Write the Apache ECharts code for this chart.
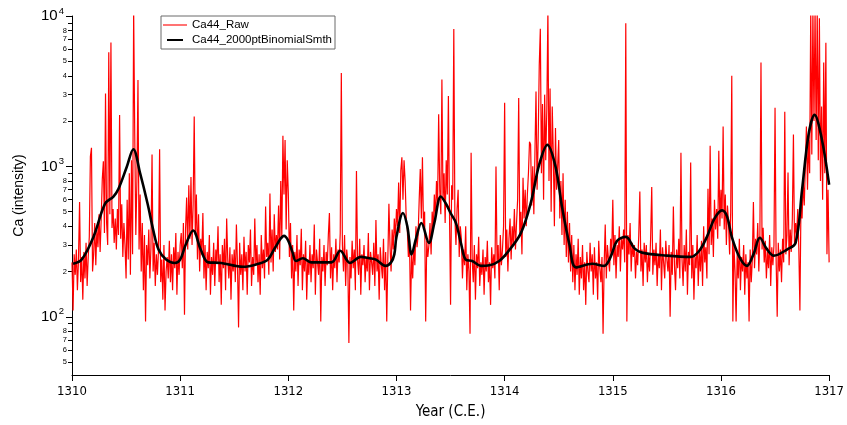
<!DOCTYPE html>
<html>
<head>
<meta charset="utf-8">
<script src="https://cdn.jsdelivr.net/npm/echarts@6/dist/echarts.min.js"></script>
<style>html,body{margin:0;padding:0;background:#fff}#c{width:847px;height:425px}</style>
</head>
<body>
<div id="c"></div>
<script>
// ---- data ----
const rawStartYear = 1310;
const rawStep = 0.01;
const rawValues = [
230,110,260,190,280,150,240,580,170,250,
130,270,180,310,160,250,340,1160,1330,200,
260,420,220,380,290,480,270,450,820,1080,
360,3050,420,300,5750,480,6670,390,520,310,
450,280,520,350,2200,330,560,250,420,300,
180,600,240,900,190,1100,260,11000,1630,350,
800,3760,280,650,200,420,150,350,93,300,
220,380,180,290,1200,200,310,160,260,190,
280,1300,170,240,130,300,110,200,250,180,
320,170,260,150,290,210,360,140,270,190,
300,360,210,420,103,380,620,280,750,330,
850,300,560,2150,350,650,240,480,200,330,
260,490,180,300,150,270,210,350,140,250,
190,310,160,280,230,400,170,260,120,300,
210,330,150,450,240,180,290,130,260,200,
280,170,410,220,85,310,190,260,150,340,
200,270,140,300,230,380,160,250,190,450,
220,300,170,260,140,350,210,280,180,540,
250,310,190,660,230,380,200,480,270,350,
280,550,240,800,330,1600,650,1500,380,1100,
660,250,420,180,300,110,270,200,350,160,
280,220,385,150,260,200,320,130,240,190,
300,170,260,210,410,140,280,230,190,330,
93,250,200,300,160,270,220,350,490,180,
290,150,260,210,330,170,280,230,360,4180,
300,200,350,160,280,230,67,250,180,320,
210,280,150,930,240,190,330,140,260,220,
300,170,250,200,360,150,270,230,190,310,
160,440,200,260,130,290,220,180,330,150,
270,93,240,565,300,200,380,280,450,330,
520,400,780,360,940,1150,600,1100,800,450,
380,250,330,110,260,180,300,220,400,290,
350,600,960,450,1150,380,500,93,320,250,
300,420,260,500,380,650,450,800,550,2220,
700,480,3780,600,900,420,1100,650,2940,500,
120,750,600,8180,450,300,520,700,250,400,
330,180,280,220,400,150,260,200,77,1230,
240,170,300,130,260,210,340,160,230,190,
280,140,250,200,320,170,230,120,290,210,
260,180,1000,230,300,150,350,220,280,400,
2650,250,380,200,330,450,240,400,300,520,
280,420,600,2850,350,500,260,840,450,700,
400,650,900,1460,1400,550,1000,480,1200,3150,
700,1500,4670,8220,900,2600,600,3000,1100,2400,
11000,800,3300,500,2500,1200,400,1800,700,1000,
1500,450,800,350,900,300,600,250,500,230,
420,200,350,170,300,150,260,190,330,140,
250,180,300,150,230,120,270,200,170,310,
200,260,140,290,180,230,130,320,210,170,
250,77,220,410,180,300,240,200,330,260,
600,220,350,180,300,250,400,200,330,280,
380,230,8960,93,350,260,420,200,310,250,
300,180,270,220,350,680,200,280,160,310,
230,300,170,260,200,340,730,190,280,220,
310,160,260,210,380,150,290,230,180,320,
240,200,300,100,270,190,540,220,150,280,
210,330,180,1230,240,160,300,200,380,140,
270,220,1060,180,300,130,250,210,350,160,
280,200,320,160,400,230,290,180,710,260,
1370,300,450,250,600,380,520,330,1270,400,
700,450,1840,380,650,300,550,420,260,500,
4010,93,300,200,93,260,180,330,150,250,
200,300,140,260,180,230,93,280,170,240,
580,210,330,260,420,200,350,4900,280,390,
230,320,180,270,210,350,160,290,220,300,
2450,240,100,310,200,280,170,330,230,2310,
260,350,910,220,380,270,450,1630,300,420,
350,520,280,110,600,450,800,550,1000,1840,
700,1500,900,11000,1200,11000,2000,11000,1500,11000,
1100,9650,800,2500,600,4900,900,6650,260,700,
230
];
const smoothYears = [
1310.01,1310.09,1310.2,1310.306,1310.383,1310.43,1310.506,1310.567,1310.63,1310.7,1310.75,1310.8,1310.87,1310.95,
1311.0,1311.05,1311.12,1311.19,1311.26,1311.38,1311.58,1311.72,1311.81,1311.88,1311.96,
1312.0,1312.04,1312.07,1312.135,1312.21,1312.4,1312.48,1312.57,1312.67,1312.75,1312.81,1312.9,1312.95,
1312.98,1313.0,1313.06,1313.1,1313.14,1313.18,1313.23,1313.3,1313.35,1313.41,1313.46,1313.5,1313.55,1313.6,1313.64,1313.7,1313.78,1313.86,1313.95,
1314.03,1314.15,1314.24,1314.32,1314.395,1314.47,1314.53,1314.6,1314.66,1314.81,1314.92,1314.98,
1315.04,1315.12,1315.2,1315.27,1315.5,1315.72,1315.8,1315.87,1315.94,
1316.01,1316.056,1316.1,1316.17,1316.24,1316.3,1316.36,1316.42,1316.49,1316.61,1316.69,1316.75,1316.81,1316.865,1316.93,1317.0
];
const smoothValues = [
225,240,342,565,630,710,990,1300,900,560,380,280,240,228,
240,300,375,280,230,228,215,225,240,290,345,
320,267,235,245,230,230,275,228,250,245,240,218,230,
260,340,490,400,260,330,420,310,420,630,560,490,420,300,240,235,218,220,235,
270,360,565,1030,1390,1000,540,300,213,225,218,250,
320,340,285,267,255,250,275,340,450,
510,465,340,250,218,260,335,285,255,280,310,700,1630,2200,1550,755
];
const xTickYears = [1310,1311,1312,1313,1314,1315,1316,1317];
const yMajorTicks = [100,1000,10000];
const yMinorTicks = [50,60,70,80,90,200,300,400,500,600,700,800,900,2000,3000,4000,5000,6000,7000,8000,9000];
const yMinorLabels = [50,60,70,80,200,300,400,500,600,700,800,2000,3000,4000,5000,6000,7000,8000];
const seriesNames = ['Ca44_Raw','Ca44_2000ptBinomialSmth'];
const xName = 'Year (C.E.)';
const yName = 'Ca (intensity)';

// ---- chart ----
const rawData = rawValues.map((v,i)=>[+(rawStartYear + i*rawStep).toFixed(2), v]);
const smoothData = smoothYears.map((y,i)=>[y, smoothValues[i]]);
const FONT = "'Liberation Sans Narrow','DejaVu Sans Condensed','Liberation Sans',sans-serif";
const FONT2 = "'Liberation Sans','DejaVu Sans',sans-serif";
const yMin = 41, yMax = 10000;

const chart = echarts.init(document.getElementById('c'), null, {renderer:'canvas'});
chart.setOption({
  animation: false,
  backgroundColor: '#fff',
  grid: {left: 72, right: 15, top: 16, bottom: 44, containLabel: false},
  legend: {
    left: 161, top: 16, orient: 'vertical',
    borderColor: '#6b6b6b', borderWidth: 1,
    padding: [2, 3, 2, 2], itemGap: 1, itemWidth: 24, itemHeight: 2,
    textStyle: {fontFamily: FONT2, fontSize: 11.5, color: '#000', lineHeight: 14},
    data: [
      {name: seriesNames[0], icon: 'rect', itemStyle: {color: '#ff7373'}},
      {name: seriesNames[1], icon: 'path://M0,0 L24,0 L24,3 L0,3 Z', itemStyle: {color: '#000'}}
    ]
  },
  xAxis: {
    type: 'value', min: xTickYears[0], max: xTickYears[xTickYears.length-1], interval: 1,
    name: xName, nameLocation: 'middle', nameGap: 30,
    nameTextStyle: {fontFamily: FONT, fontSize: 15, color: '#000'},
    axisLine: {lineStyle: {color: '#000', width: 1}},
    axisTick: {inside: false, length: 6, lineStyle: {color: '#000'}},
    axisLabel: {fontFamily: FONT, fontSize: 13, color: '#000', margin: 10, formatter: v => String(v)},
    splitLine: {show: false}
  },
  yAxis: [{
    type: 'log', logBase: 10, min: yMin, max: yMax,
    name: yName, nameLocation: 'middle', nameGap: 46,
    nameTextStyle: {fontFamily: FONT2, fontSize: 14, color: '#000'},
    axisLine: {show: true, lineStyle: {color: '#000', width: 1}},
    axisTick: {show: true, inside: false, length: 6, customValues: yMajorTicks, lineStyle: {color: '#000'}},
    axisLabel: {
      show: true, margin: 8, customValues: yMajorTicks, hideOverlap: false,
      formatter: v => '{b|10}{s|' + Math.round(Math.log10(v)) + '}',
      rich: {
        b: {fontFamily: FONT2, fontSize: 15, color: '#000', lineHeight: 16},
        s: {fontFamily: FONT2, fontSize: 9.5, color: '#000', lineHeight: 16, padding: [0,0,10,1]}
      }
    },
    splitLine: {show: false}
  }, {
    type: 'log', logBase: 10, min: yMin, max: yMax, position: 'left', offset: 0,
    axisLine: {show: false},
    axisTick: {show: true, inside: false, length: 4, customValues: yMinorTicks, lineStyle: {color: '#000'}},
    axisLabel: {
      show: true, margin: 5, customValues: yMinorLabels, hideOverlap: false,
      showMinLabel: true, showMaxLabel: true,
      fontFamily: FONT2, fontSize: 7.5, lineHeight: 7, color: '#000',
      formatter: v => String(Math.round(v / Math.pow(10, Math.floor(Math.log10(v) + 1e-9))))
    },
    splitLine: {show: false}
  }],
  series: [{
    name: seriesNames[0], type: 'line', data: rawData, yAxisIndex: 0,
    showSymbol: false, symbol: 'none', clip: true,
    lineStyle: {color: '#ff0000', width: 1.2},
    itemStyle: {color: '#ff0000'}, z: 2
  }, {
    name: seriesNames[1], type: 'line', data: smoothData, yAxisIndex: 0,
    showSymbol: false, symbol: 'none', smooth: 0.35, clip: true,
    lineStyle: {color: '#000', width: 2.6},
    itemStyle: {color: '#000'}, z: 3
  }]
});
</script>
</body>
</html>
